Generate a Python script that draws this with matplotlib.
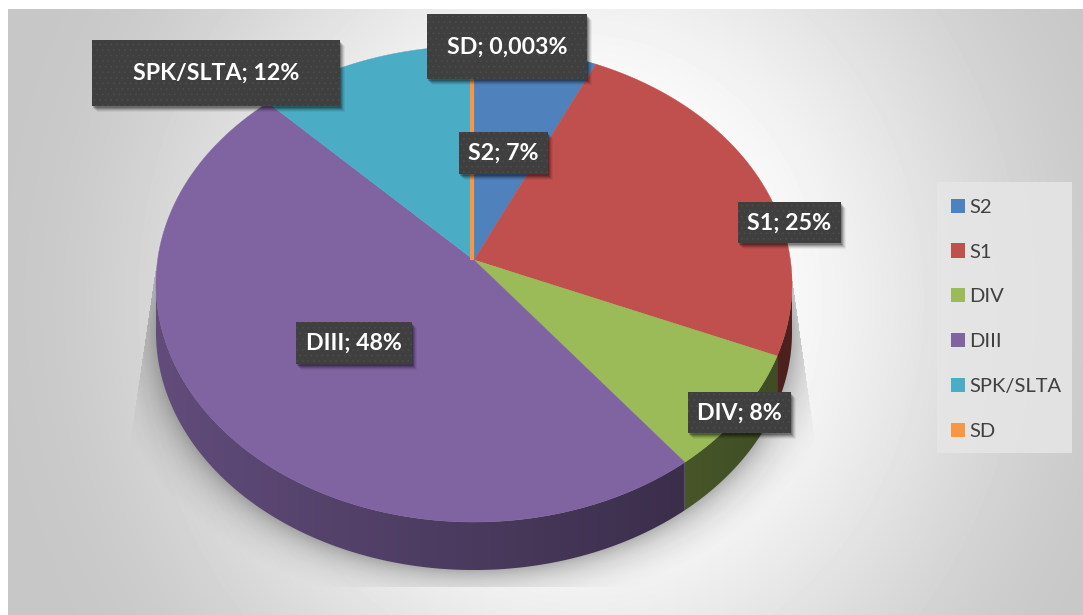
import numpy as np
import matplotlib
matplotlib.use("Agg")
import matplotlib.pyplot as plt
from matplotlib.patches import Polygon, Rectangle, Patch

plt.rcParams["font.family"] = ["Lato", "DejaVu Sans"]

CATEGORIES = ["S2", "S1", "DIV", "DIII", "SPK/SLTA", "SD"]
SHARES = [6.9, 24.5, 8.1, 48.2, 12.3, 0.003]
LABELS = ["S2; 7%", "S1; 25%", "DIV; 8%", "DIII; 48%", "SPK/SLTA; 12%", "SD; 0,003%"]
COLORS = ["#4F81BD", "#C0504D", "#9BBB59", "#8064A2", "#4BACC6", "#F79646"]

# label boxes in pixels: left, top, right, bottom
BOXES = [(459, 132, 548, 174), (738, 202, 841, 243), (688, 392, 791, 433),
         (296, 322, 412, 364), (92, 40, 340, 106), (427, 14, 587, 79)]

W, H = 1083, 615
CX, CY = 474, 260       # where the slices meet
A, B, K = 316.4, 235.6, 0.1009   # perspective of the tilted disc
DEPTH = 48


def rim(theta):
    w = 1 + K * np.cos(theta)
    return CX + A * np.sin(theta) / w, CY - B * np.cos(theta) / w


fig = plt.figure(figsize=(W / 100, H / 100), dpi=100)
ax = fig.add_axes([0, 0, 1, 1])
ax.axis("off")

# ── background ───────────────────────────────────────────────────────────────
yy, xx = np.mgrid[0:H, 0:W]
t = np.clip((np.hypot((xx - 580) / 500, (yy - 300) / 550) - 0.2) / 1.0, 0, 1)
grey = 1 - 0.22 * t * t * (3 - 2 * t)
grey[:9, :] = 1
grey[:, :8] = 1
ax.imshow(grey, cmap="gray", vmin=0, vmax=1, extent=(0, W, H, 0), aspect="auto", zorder=0)

# ── soft shadow below the disc ───────────────────────────────────────────────
d = (np.hypot((xx - CX) / 318, (yy - (284 + DEPTH)) / 238) - 1) * 270
alpha = 0.30 * np.clip(np.exp(-np.clip(d, 0, None) / 20) - np.exp(-50 / 20), 0, None)
left_edge = 155 - (yy - 270) * 22 / 150
right_edge = 792 + (yy - 280) * 21 / 150
mask = (yy > 270) & (yy < 587) & (xx > left_edge) & (xx < right_edge)
shadow = np.zeros((H, W, 4))
shadow[..., 3] = alpha * mask
ax.imshow(shadow, extent=(0, W, H, 0), aspect="auto", zorder=1)

# ── slices ───────────────────────────────────────────────────────────────────
edges = np.cumsum([0] + SHARES) / sum(SHARES) * 2 * np.pi
vis_a, vis_b = np.arccos(-K), 2 * np.pi - np.arccos(-K)

for i, color in enumerate(COLORS):
    a0, a1 = edges[i], edges[i + 1]

    # side wall, only the part turned towards the viewer
    s0, s1 = max(a0, vis_a), min(a1, vis_b)
    if s1 > s0:
        th = np.linspace(s0, s1, 200)
        x, y = rim(th)
        pts = np.r_[np.c_[x, y], np.c_[x[::-1], y[::-1] + DEPTH]]
        wall = Polygon(pts, closed=True, transform=ax.transData, fc="none", ec="none")
        ax.add_patch(wall)
        base = np.array(matplotlib.colors.to_rgb(color))
        xs = np.linspace(x.min(), x.max(), 256)
        shade = np.interp(xs, [155, 792], [0.76, 0.40])
        img = (shade[:, None] * base)[None, :, :]
        im = ax.imshow(img, extent=(x.min(), x.max(), y.max() + DEPTH, y.min()),
                       aspect="auto", zorder=2)
        im.set_clip_path(wall)

    # top face
    th = np.linspace(a0, a1, max(2, int((a1 - a0) * 120)))
    x, y = rim(th)
    pts = np.r_[[[CX, CY]], np.c_[x, y]]
    if SHARES[i] < 0.1:   # too thin to see, the original gives it a visible stroke
        ax.add_patch(Polygon(pts - [2, 0], closed=True, fc=color, ec=color, lw=2.7, zorder=3))
    else:
        ax.add_patch(Polygon(pts, closed=True, fc=color, ec=color, lw=0.3, zorder=3))

# ── data labels ──────────────────────────────────────────────────────────────
plt.rcParams["hatch.linewidth"] = 0.5
for text, (x0, y0, x1, y1) in zip(LABELS, BOXES):
    for off, a in zip([6, 5, 4, 3, 2], [0.05, 0.08, 0.12, 0.16, 0.2]):
        ax.add_patch(Rectangle((x0 + off - 1, y0 + off), x1 - x0, y1 - y0, fc="black",
                               ec="none", alpha=a, zorder=4))
    ax.add_patch(Rectangle((x0, y0), x1 - x0, y1 - y0, fc="#3F3F3F", ec="#4C4C4C",
                           lw=0, hatch="...", zorder=5))
    ax.text((x0 + x1) / 2, (y0 + y1) / 2 + 0.5, text, color="white", fontsize=16.7,
            fontweight="bold", ha="center", va="center", zorder=6)

# ── legend ───────────────────────────────────────────────────────────────────
ax.add_patch(Rectangle((937, 182), 135, 271, fc="#E6E6E6", ec="none", alpha=0.85, zorder=6))
handles = [Patch(fc=c, ec="none") for c in COLORS]
leg = ax.legend(handles, CATEGORIES, loc="upper left", bbox_to_anchor=(934 / W, 1 - 182 / H),
                bbox_transform=fig.transFigure, fontsize=14.5, frameon=False, labelspacing=1.37,
                handlelength=0.72, handleheight=0.72, handletextpad=0.2, borderpad=0.82,
                borderaxespad=0, labelcolor="#404040")
leg.set_zorder(7)

ax.set_xlim(0, W)
ax.set_ylim(H, 0)
fig.savefig("out.png", dpi=100)
